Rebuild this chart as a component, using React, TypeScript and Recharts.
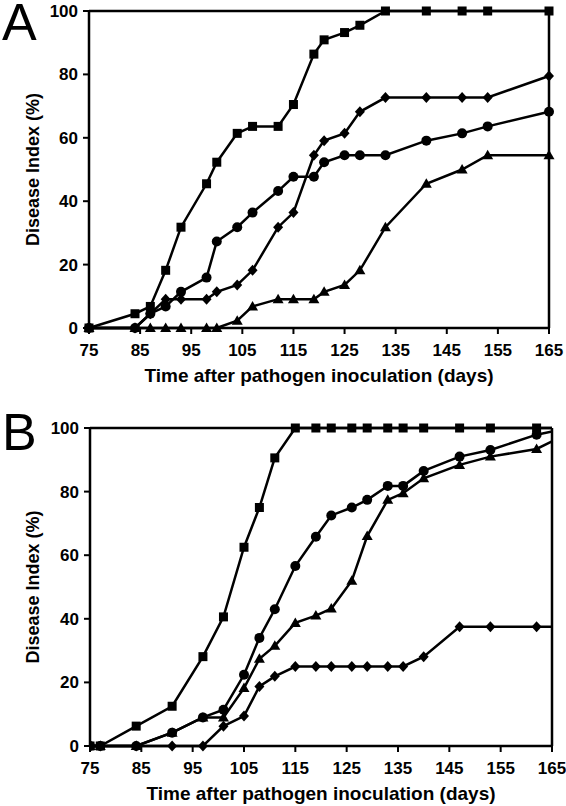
import { LineChart, Line, XAxis, YAxis, ReferenceLine } from 'recharts'

// Panel A – days after inoculation and disease index (%) per line
const daysA = [75, 84, 87, 90, 93, 98, 100, 104, 107, 112, 115, 119, 121, 125, 128, 133, 141, 148, 153, 165]
const squaresA = [0, 4.5, 6.8, 18.2, 31.8, 45.5, 52.3, 61.4, 63.6, 63.6, 70.5, 86.4, 90.9, 93.2, 95.5, 100, 100, 100, 100, 100]
const circlesA = [0, 0, 4.5, 6.8, 11.4, 15.9, 27.3, 31.8, 36.4, 43.2, 47.7, 47.7, 52.3, 54.5, 54.5, 54.5, 59.1, 61.4, 63.6, 68.2]
const diamondsA = [0, 0, 4.5, 9.1, 9.1, 9.1, 11.4, 13.6, 18.2, 31.8, 36.4, 54.5, 59.1, 61.4, 68.2, 72.7, 72.7, 72.7, 72.7, 79.5]
const trianglesA = [0, 0, 0, 0, 0, 0, 0, 2.3, 6.8, 9.1, 9.1, 9.1, 11.4, 13.6, 18.2, 31.8, 45.5, 50, 54.5, 54.5]

// Panel B – last day runs past the axis end, the lines are cut at 165
const daysB = [75, 77, 84, 91, 97, 101, 105, 108, 111, 115, 119, 122, 126, 129, 133, 136, 140, 147, 153, 162, 168]
const squaresB = [0, 0, 6.25, 12.5, 28.1, 40.6, 62.5, 75, 90.6, 100, 100, 100, 100, 100, 100, 100, 100, 100, 100, 100, 100]
const circlesB = [0, 0, 0, 4.2, 9, 11.4, 22.4, 34, 43, 56.6, 65.8, 72.5, 75, 77.4, 81.8, 81.8, 86.5, 91, 93.1, 97.9, 99.9]
const trianglesB = [0, 0, 0, 4.2, 9, 9, 18.2, 27.4, 31.5, 38.7, 41, 43.2, 52, 66, 77.4, 79.5, 84.2, 88.4, 91, 93.4, 98.2]
const diamondsB = [0, 0, 0, 0, 0, 6.25, 9.4, 18.75, 21.9, 25, 25, 25, 25, 25, 25, 25, 28.1, 37.5, 37.5, 37.5, 37.5]

const xTicks = [75, 85, 95, 105, 115, 125, 135, 145, 155, 165]
const yTicks = [0, 20, 40, 60, 80, 100]

const FONT = '"Liberation Sans", Arial, sans-serif'

type Shape = 'square' | 'circle' | 'diamond' | 'triangle'

function Marker({ cx, cy, shape, payload }: any) {
  if (cx == null || cy == null || payload.day > 165) return <g />
  if (shape === 'square') return <rect x={cx - 4.5} y={cy - 4.5} width={9} height={9} fill="#000" />
  if (shape === 'circle') return <circle cx={cx} cy={cy} r={5} fill="#000" />
  if (shape === 'diamond')
    return <path d={`M${cx},${cy - 5.5} L${cx + 5},${cy} L${cx},${cy + 5.5} L${cx - 5},${cy} Z`} fill="#000" />
  return <path d={`M${cx},${cy - 5.5} L${cx + 5.5},${cy + 4} L${cx - 5.5},${cy + 4} Z`} fill="#000" />
}

function buildRows(days: number[], series: Record<string, number[]>) {
  return days.map((day, i) => {
    const row: Record<string, number> = { day }
    Object.keys(series).forEach((k) => { row[k] = series[k][i] })
    return row
  })
}

const XTitle = ({ viewBox }: any) => (
  <text
    x={viewBox.x + viewBox.width / 2}
    y={viewBox.y + 54}
    textAnchor="middle"
    style={{ fontFamily: FONT, fontSize: 19, fontWeight: 'bold' }}
    fill="#000"
  >
    Time after pathogen inoculation (days)
  </text>
)

const YTitle = ({ viewBox }: any) => {
  const x = 33
  const y = viewBox.y + viewBox.height / 2
  return (
    <text
      x={x}
      y={y}
      transform={`rotate(-90 ${x} ${y})`}
      textAnchor="middle"
      dominantBaseline="central"
      style={{ fontFamily: FONT, fontSize: 18, fontWeight: 'bold' }}
      fill="#000"
    >
      Disease Index (%)
    </text>
  )
}

interface PanelProps {
  data: Record<string, number>[]
  order: [string, Shape][]
  height: number
  margin: { top: number; right: number; left: number; bottom: number }
  yWidth: number
  clip?: boolean
}

function Panel({ data, order, height, margin, yWidth, clip }: PanelProps) {
  const tick = { fill: '#000', fontSize: 17, fontWeight: 'bold', fontFamily: FONT }
  return (
    <LineChart width={566} height={height} data={data} margin={margin}>
      <XAxis
        dataKey="day"
        type="number"
        domain={[75, 165]}
        ticks={xTicks}
        allowDataOverflow={!!clip}
        height={52}
        tick={tick}
        tickSize={6}
        tickMargin={10}
        axisLine={{ stroke: '#000', strokeWidth: 2.5 }}
        tickLine={{ stroke: '#000', strokeWidth: 2 }}
        label={<XTitle />}
      />
      <YAxis
        type="number"
        domain={[0, 100]}
        ticks={yTicks}
        width={yWidth}
        tick={tick}
        tickSize={6}
        tickMargin={5}
        axisLine={{ stroke: '#000', strokeWidth: 2.5 }}
        tickLine={{ stroke: '#000', strokeWidth: 2 }}
        label={<YTitle />}
      />
      <ReferenceLine y={100} stroke="#000" strokeWidth={2.5} />
      <ReferenceLine x={165} stroke="#000" strokeWidth={2.5} />
      {order.map(([key, shape]) => (
        <Line
          key={key}
          dataKey={key}
          stroke="#000"
          strokeWidth={2.5}
          type="linear"
          isAnimationActive={false}
          dot={(p: any) => <Marker key={`${key}-${p.index}`} {...p} shape={shape} />}
        />
      ))}
    </LineChart>
  )
}

const dataA = buildRows(daysA, { sq: squaresA, ci: circlesA, di: diamondsA, tr: trianglesA })
const dataB = buildRows(daysB, { sq: squaresB, ci: circlesB, di: diamondsB, tr: trianglesB })

const letterStyle: React.CSSProperties = {
  position: 'absolute',
  left: 2,
  fontFamily: FONT,
  fontSize: 52,
  lineHeight: '40px',
  height: 42,
  color: '#000',
}

export default function App() {
  return (
    <div style={{ position: 'absolute', left: 0, top: 0, width: 566, height: 806, background: '#fff' }}>
      <div style={{ position: 'absolute', left: 0, top: 0 }}>
        <Panel
          data={dataA}
          order={[['tr', 'triangle'], ['di', 'diamond'], ['ci', 'circle'], ['sq', 'square']]}
          height={392}
          margin={{ top: 11, right: 17, left: 0, bottom: 12 }}
          yWidth={89}
        />
      </div>
      <div style={{ position: 'absolute', left: 0, top: 400 }}>
        <Panel
          data={dataB}
          order={[['di', 'diamond'], ['tr', 'triangle'], ['ci', 'circle'], ['sq', 'square']]}
          height={406}
          margin={{ top: 28, right: 14, left: 0, bottom: 8 }}
          yWidth={90}
          clip
        />
      </div>
      <div style={{ ...letterStyle, top: 2 }}>A</div>
      <div style={{ ...letterStyle, top: 412 }}>B</div>
    </div>
  )
}
